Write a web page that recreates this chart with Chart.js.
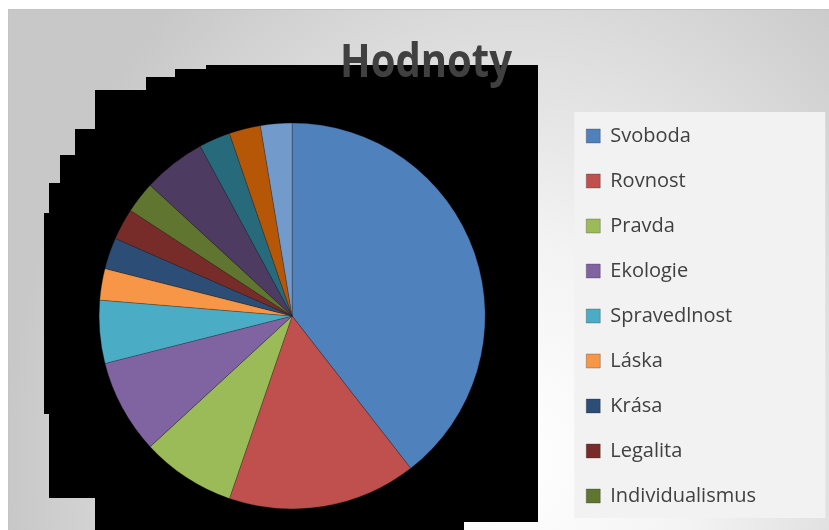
<!DOCTYPE html>
<html>
<head>
<meta charset="utf-8">
<script src="https://cdn.jsdelivr.net/npm/chart.js@4"></script>
<style>
  body { margin: 0; background: #fff; overflow: hidden; }
  #frame {
    position: absolute; left: 8px; top: 9px; width: 821px; height: 560px;
    border-top: 1px solid #c4c4c4; border-left: 1px solid #c4c4c4;
    background: radial-gradient(ellipse 62% 110% at 62% 80%, #ffffff 0%, #f3f3f3 35%, #c8c8c8 100%);
  }
  #title {
    position: absolute; left: 317px; top: 26px; width: 200px; text-align: center;
    font: bold 46px/46px "Open Sans", sans-serif; color: #404040;
    transform: scaleX(0.87); z-index: 2;
  }
</style>
</head>
<body>
<div id="frame">
  <canvas id="pie" width="821" height="560"></canvas>
  <div id="title">Hodnoty</div>
</div>
<script>
// hodnoty (úhly výsečí)
const labels = ['Svoboda', 'Rovnost', 'Pravda', 'Ekologie', 'Spravedlnost', 'Láska', 'Krása',
                'Legalita', 'Individualismus', 'Hodnota 10', 'Hodnota 11', 'Hodnota 12', 'Hodnota 13'];
const values = [15, 6, 3, 3, 2, 1, 1, 1, 1, 2, 1, 1, 1];
const colors = ['#4F81BD', '#C0504D', '#9BBB59', '#8064A2', '#4BACC6', '#F79646', '#2C4D75',
                '#772C2A', '#5F7530', '#4D3B62', '#276A7C', '#B65708', '#729ACA'];
const shownInLegend = 9;

// cerny stupnovity stin za grafem (v souradnicich ramecku)
const shadowPts = [[529,55],[529,512],[455,512],[455,560],[86,560],[86,488],[40,488],[40,404],
  [35,404],[35,203],[40,203],[40,173],[51,173],[51,145],[66,145],[66,119],[86,119],[86,80],
  [137,80],[137,67],[166,67],[166,59],[197,59],[197,55]];

const backdrop = {
  id: 'backdrop',
  beforeDraw(chart) {
    const ctx = chart.ctx;
    ctx.save();
    ctx.fillStyle = '#000';
    ctx.beginPath();
    shadowPts.forEach((p, i) => i ? ctx.lineTo(p[0], p[1]) : ctx.moveTo(p[0], p[1]));
    ctx.closePath();
    ctx.fill();
    // pozadi legendy
    const hb = chart.legend.legendHitBoxes;
    if (hb && hb.length) {
      const last = hb[hb.length - 1];
      const x = hb[0].left - 12, y = hb[0].top - 14;
      ctx.fillStyle = '#f2f2f2';
      ctx.fillRect(x, y, 251, last.top + last.height + 12 - y);
    }
    ctx.restore();
  }
};

Chart.defaults.font.family = '"Open Sans", sans-serif';

new Chart(document.getElementById('pie'), {
  type: 'pie',
  data: {
    labels: labels,
    datasets: [{
      data: values,
      backgroundColor: colors,
      borderColor: 'rgba(30,30,30,0.45)',
      borderWidth: 0.6,
      radius: 193
    }]
  },
  options: {
    responsive: false,
    animation: false,
    layout: { padding: { left: 14, right: 64, top: 80, bottom: 28 } },
    plugins: {
      title: { display: false },
      tooltip: { enabled: false },
      legend: {
        position: 'right',
        labels: {
          boxWidth: 14,
          boxHeight: 14,
          padding: 25,
          color: '#404040',
          font: { size: 20 },
          filter: (item) => item.index < shownInLegend
        }
      }
    }
  },
  plugins: [backdrop]
});
</script>
</body>
</html>
